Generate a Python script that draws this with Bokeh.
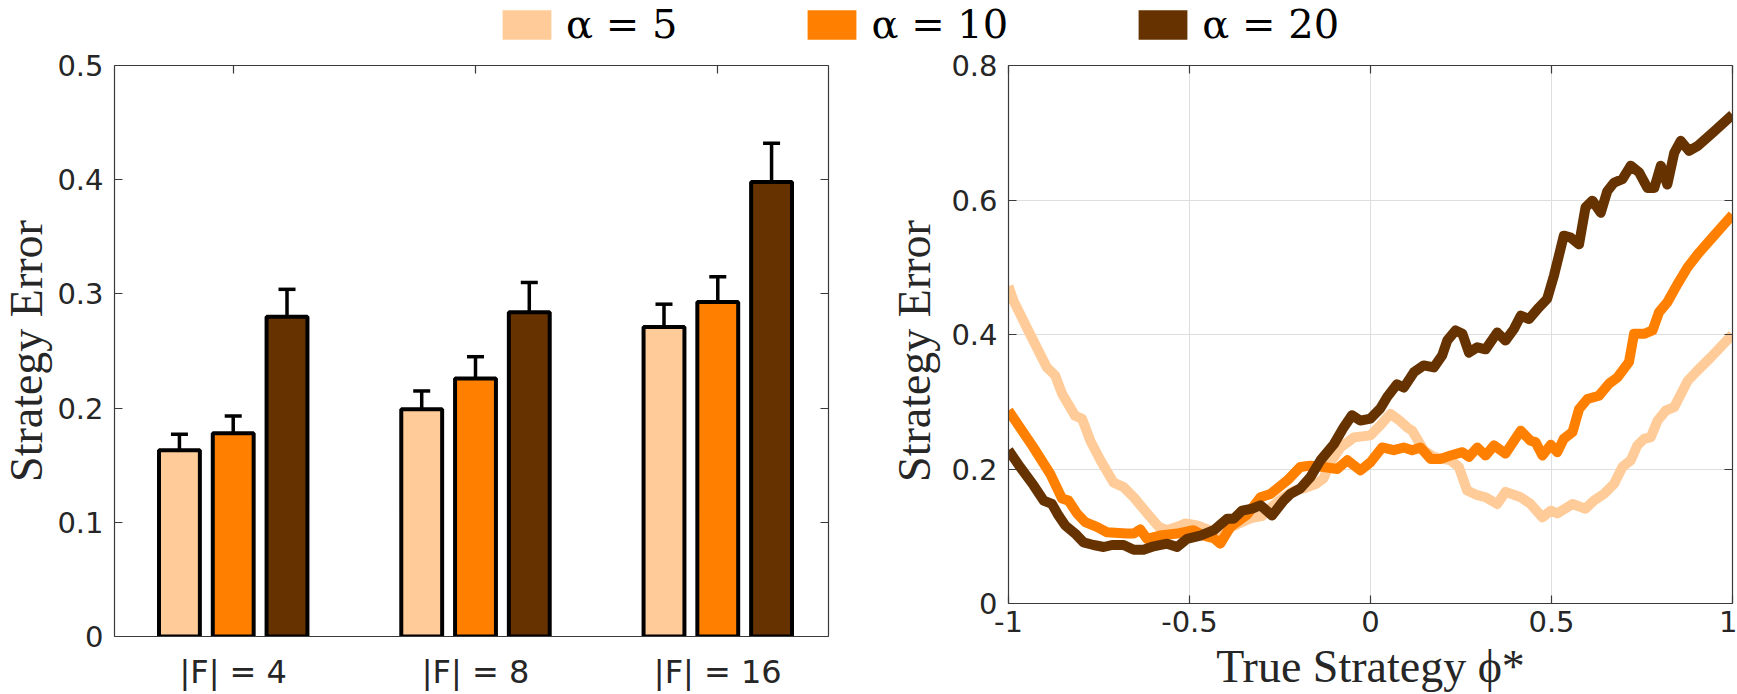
import math
from bokeh.plotting import figure
from bokeh.layouts import column, row
from bokeh.core.properties import value
from bokeh.models import (ColumnDataSource, Range1d, FixedTicker, LinearAxis,
                          Whisker, TeeHead, Legend, LegendItem,
                          CustomJSTickFormatter)
from bokeh.embed import file_html
from bokeh.resources import INLINE

# ---------------- data ----------------
groups = ["|F| = 4", "|F| = 8", "|F| = 16"]
alpha_labels = ["α = 5", "α = 10", "α = 20"]
colors = ["#FFCC99", "#FF8000", "#663300"]

# mean strategy error per feature-set size, and its standard error
mean_a5 = [0.163, 0.199, 0.271]
mean_a10 = [0.178, 0.226, 0.293]
mean_a20 = [0.280, 0.284, 0.398]
sem_a5 = [0.014, 0.016, 0.020]
sem_a10 = [0.015, 0.019, 0.022]
sem_a20 = [0.024, 0.026, 0.034]

# strategy error as a function of the true strategy phi*
phi_a5 = [-1.0, -0.986, -0.94, -0.894, -0.871, -0.852, -0.816, -0.797, -0.774, -0.746,
          -0.71, -0.682, -0.654, -0.617, -0.585, -0.562, -0.534, -0.511, -0.479, -0.45,
          -0.42, -0.39, -0.36, -0.33, -0.30, -0.27, -0.24, -0.21, -0.18, -0.15,
          -0.13, -0.11, -0.083, -0.046, 0.0, 0.027, 0.055, 0.08, 0.101, 0.115,
          0.147, 0.175, 0.221, 0.244, 0.267, 0.295, 0.318, 0.35, 0.373, 0.415,
          0.442, 0.475, 0.498, 0.516, 0.558, 0.594, 0.617, 0.645, 0.673, 0.696,
          0.719, 0.737, 0.756, 0.774, 0.793, 0.816, 0.839, 0.876, 0.899, 0.94, 1.0]
err_a5 = [0.472, 0.45, 0.4, 0.351, 0.339, 0.312, 0.279, 0.275, 0.242, 0.213,
          0.18, 0.173, 0.158, 0.134, 0.114, 0.109, 0.114, 0.119, 0.116, 0.11,
          0.105, 0.112, 0.12, 0.127, 0.13, 0.145, 0.158, 0.168, 0.172, 0.178,
          0.186, 0.21, 0.232, 0.247, 0.25, 0.265, 0.282, 0.272, 0.262, 0.257,
          0.228, 0.218, 0.213, 0.203, 0.168, 0.161, 0.158, 0.148, 0.166, 0.158,
          0.148, 0.128, 0.138, 0.134, 0.148, 0.141, 0.153, 0.163, 0.178, 0.203,
          0.213, 0.235, 0.245, 0.247, 0.272, 0.287, 0.292, 0.331, 0.344, 0.366, 0.4]

phi_a10 = [-1.0, -0.931, -0.885, -0.852, -0.834, -0.811, -0.788, -0.756, -0.728, -0.673,
           -0.654, -0.636, -0.617, -0.581, -0.534, -0.489, -0.461, -0.433, -0.415, -0.387,
           -0.341, -0.304, -0.276, -0.23, -0.194, -0.166, -0.129, -0.092, -0.064, -0.028,
           0.0, 0.032, 0.064, 0.092, 0.115, 0.138, 0.166, 0.193, 0.221, 0.254,
           0.272, 0.295, 0.318, 0.341, 0.373, 0.415, 0.442, 0.456, 0.475, 0.498,
           0.516, 0.534, 0.558, 0.576, 0.599, 0.631, 0.659, 0.682, 0.714, 0.728,
           0.756, 0.779, 0.797, 0.82, 0.848, 0.876, 0.908, 0.949, 1.0]
err_a10 = [0.287, 0.232, 0.193, 0.156, 0.153, 0.134, 0.121, 0.114, 0.106, 0.104,
           0.104, 0.11, 0.096, 0.101, 0.104, 0.109, 0.101, 0.097, 0.089, 0.114,
           0.132, 0.158, 0.163, 0.183, 0.203, 0.205, 0.203, 0.2, 0.213, 0.198,
           0.21, 0.232, 0.228, 0.232, 0.228, 0.232, 0.215, 0.215, 0.22, 0.225,
           0.218, 0.232, 0.22, 0.235, 0.223, 0.257, 0.242, 0.24, 0.22, 0.236,
           0.225, 0.245, 0.255, 0.289, 0.304, 0.309, 0.327, 0.336, 0.359, 0.401,
           0.401, 0.406, 0.433, 0.448, 0.475, 0.5, 0.522, 0.547, 0.578]

phi_a20 = [-1.0, -0.968, -0.931, -0.903, -0.88, -0.862, -0.843, -0.816, -0.793, -0.765,
           -0.737, -0.714, -0.682, -0.654, -0.627, -0.599, -0.562, -0.534, -0.507, -0.47,
           -0.433, -0.396, -0.378, -0.355, -0.327, -0.304, -0.272, -0.24, -0.221, -0.194,
           -0.166, -0.138, -0.101, -0.074, -0.051, -0.028, 0.0, 0.027, 0.046, 0.073,
           0.092, 0.12, 0.147, 0.175, 0.198, 0.212, 0.235, 0.254, 0.272, 0.295,
           0.318, 0.35, 0.373, 0.396, 0.415, 0.438, 0.465, 0.488, 0.507, 0.534,
           0.553, 0.576, 0.594, 0.613, 0.636, 0.654, 0.673, 0.696, 0.719, 0.742,
           0.765, 0.784, 0.802, 0.82, 0.839, 0.857, 0.88, 0.903, 0.949, 1.0]
err_a20 = [0.228, 0.203, 0.176, 0.153, 0.148, 0.131, 0.116, 0.104, 0.091, 0.087,
           0.084, 0.087, 0.087, 0.08, 0.08, 0.085, 0.089, 0.084, 0.096, 0.101,
           0.109, 0.126, 0.126, 0.138, 0.141, 0.146, 0.131, 0.153, 0.163, 0.171,
           0.188, 0.213, 0.237, 0.262, 0.28, 0.272, 0.275, 0.29, 0.307, 0.326,
           0.321, 0.344, 0.354, 0.351, 0.369, 0.391, 0.406, 0.401, 0.373, 0.381,
           0.378, 0.403, 0.391, 0.408, 0.428, 0.423, 0.44, 0.453, 0.488, 0.547,
           0.544, 0.534, 0.589, 0.599, 0.581, 0.613, 0.626, 0.631, 0.651, 0.641,
           0.618, 0.618, 0.651, 0.623, 0.67, 0.688, 0.673, 0.68, 0.702, 0.727]

bar_ticks = [0, 0.1, 0.2, 0.3, 0.4, 0.5]
curve_yticks = [0, 0.2, 0.4, 0.6, 0.8]
curve_xticks = [-1, -0.5, 0, 0.5, 1]
y_title = "Strategy Error"
x_title = "True Strategy ϕ*"

# ---------------- styling ----------------
AXIS_COLOR = "#3a3a3a"
TEXT_COLOR = "#262626"
TICK_FONT = "DejaVu Sans"
TICK_SIZE = "29px"
LABEL_FONT = "Liberation Serif"
LABEL_SIZE = "46px"
LEG_H = 47
ROW_H = 694 - LEG_H
TOP_B = 65 - LEG_H
plain_fmt = CustomJSTickFormatter(code="return String(tick)")


def style_axis(ax):
    ax.axis_line_color = AXIS_COLOR
    ax.axis_line_width = 1.2
    ax.major_tick_line_color = AXIS_COLOR
    ax.major_tick_line_width = 1.2
    ax.major_tick_in = 8
    ax.major_tick_out = 0
    ax.minor_tick_in = 0
    ax.minor_tick_out = 0
    ax.major_label_text_font = TICK_FONT
    ax.major_label_text_font_size = TICK_SIZE
    ax.major_label_text_color = TEXT_COLOR
    ax.axis_label_text_font = LABEL_FONT
    ax.axis_label_text_font_size = LABEL_SIZE
    ax.axis_label_text_font_style = "normal"
    ax.axis_label_text_color = TEXT_COLOR


def add_mirror_axes(p, xticks, yticks):
    top = LinearAxis(ticker=FixedTicker(ticks=xticks),
                     formatter=CustomJSTickFormatter(code="return ''"))
    right = LinearAxis(ticker=FixedTicker(ticks=yticks),
                       formatter=CustomJSTickFormatter(code="return ''"))
    for ax in (top, right):
        style_axis(ax)
        ax.major_label_text_font_size = "0px"
        ax.major_label_standoff = 0
    p.add_layout(top, "above")
    p.add_layout(right, "right")


def title_strip(width, center_x):
    """Narrow panel holding a vertical axis title centred at center_x px."""
    s = figure(width=width, height=ROW_H, x_range=Range1d(0, width), y_range=Range1d(0, 1),
               x_axis_location=None, y_axis_location=None,
               min_border_left=0, min_border_right=0, min_border_top=TOP_B, min_border_bottom=58,
               toolbar_location=None, output_backend="svg", outline_line_color=None)
    s.grid.visible = False
    s.text(x=[center_x], y=[0.5], text=[y_title], angle=math.pi / 2,
           text_font=value(LABEL_FONT), text_font_size=LABEL_SIZE, text_color=TEXT_COLOR,
           text_align="center", text_baseline="middle")
    return s


# ---------------- legend strip ----------------
leg = figure(width=1737, height=LEG_H, x_range=Range1d(0, 1), y_range=Range1d(0, 1),
             x_axis_location=None, y_axis_location=None, min_border=0,
             toolbar_location=None, output_backend="svg", outline_line_color=None)
leg.grid.visible = False
# swatch renderers sit outside the strip's ranges; only their legend glyphs show
swatches = [leg.vbar(x=[-5], top=[-5], bottom=[-6], width=1, fill_color=c, line_color=None)
            for c in colors]
legend = Legend(
    items=[LegendItem(label=lab, renderers=[r]) for lab, r in zip(alpha_labels, swatches)],
    orientation="horizontal", location=(496, 0),
    glyph_width=61, glyph_height=37, label_standoff=9, spacing=124,
    padding=0, margin=0, border_line_color=None, background_fill_alpha=0,
    label_text_font="DejaVu Serif", label_text_font_size="40px", label_text_color="black")
leg.add_layout(legend)

# ---------------- grouped bars ----------------
left = figure(width=826, height=ROW_H, x_range=Range1d(0.51, 3.457), y_range=Range1d(0, 0.5),
              min_border_left=58, min_border_right=52, min_border_top=TOP_B, min_border_bottom=58,
              toolbar_location=None, output_backend="svg", outline_line_color=None)
left.grid.visible = False

offsets = [-0.222, 0.0, 0.222]
bar_width = 0.1687
for means, sems, color, off in zip([mean_a5, mean_a10, mean_a20],
                                   [sem_a5, sem_a10, sem_a20], colors, offsets):
    src = ColumnDataSource(dict(
        x=[i + 1 + off for i in range(len(groups))],
        top=means,
        upper=[m + s for m, s in zip(means, sems)],
    ))
    left.add_layout(Whisker(source=src, base="x", upper="upper", lower="top",
                            dimension="height", line_width=3.5, line_color="black",
                            upper_head=TeeHead(size=17, line_width=3.5, line_color="black"),
                            lower_head=None))
    left.vbar(x="x", top="top", bottom=0, width=bar_width, source=src,
              fill_color=color, line_color="black", line_width=4)

style_axis(left.xaxis[0])
style_axis(left.yaxis[0])
left.xaxis[0].ticker = FixedTicker(ticks=[1, 2, 3])
left.xaxis[0].major_label_overrides = {i + 1: g for i, g in enumerate(groups)}
left.xaxis[0].major_label_text_font_size = "32px"
left.xaxis[0].major_tick_in = 0
left.xaxis[0].major_label_standoff = 16
left.yaxis[0].ticker = FixedTicker(ticks=bar_ticks)
left.yaxis[0].formatter = plain_fmt
left.yaxis[0].major_label_standoff = 11
add_mirror_axes(left, [1, 2, 3], bar_ticks)

# ---------------- error curves ----------------
right = figure(width=795, height=ROW_H, x_range=Range1d(-1, 1), y_range=Range1d(0, 0.8),
               min_border_left=66, min_border_right=5, min_border_top=TOP_B, min_border_bottom=91,
               toolbar_location=None, output_backend="svg", outline_line_color=None)

for xs, ys, color in zip([phi_a5, phi_a10, phi_a20], [err_a5, err_a10, err_a20], colors):
    right.line(xs, ys, line_color=color, line_width=10, line_join="round", line_cap="butt")

style_axis(right.xaxis[0])
style_axis(right.yaxis[0])
xt = FixedTicker(ticks=curve_xticks)
yt = FixedTicker(ticks=curve_yticks)
right.xaxis[0].ticker = xt
right.yaxis[0].ticker = yt
right.xgrid[0].ticker = xt
right.ygrid[0].ticker = yt
right.grid.grid_line_color = "#dedede"
right.grid.grid_line_width = 1
right.xaxis[0].formatter = plain_fmt
right.yaxis[0].formatter = plain_fmt
right.xaxis[0].major_label_standoff = 7
right.yaxis[0].major_label_standoff = 11
right.xaxis[0].axis_label = x_title
right.xaxis[0].axis_label_standoff = 6
add_mirror_axes(right, curve_xticks, curve_yticks)

# each panel sits in its own column so the plot areas keep their own heights
layout = column(leg, row(column(title_strip(54, 26)), column(left),
                         column(title_strip(62, 34)), column(right)))
open("out.html", "w").write(file_html(layout, INLINE))
